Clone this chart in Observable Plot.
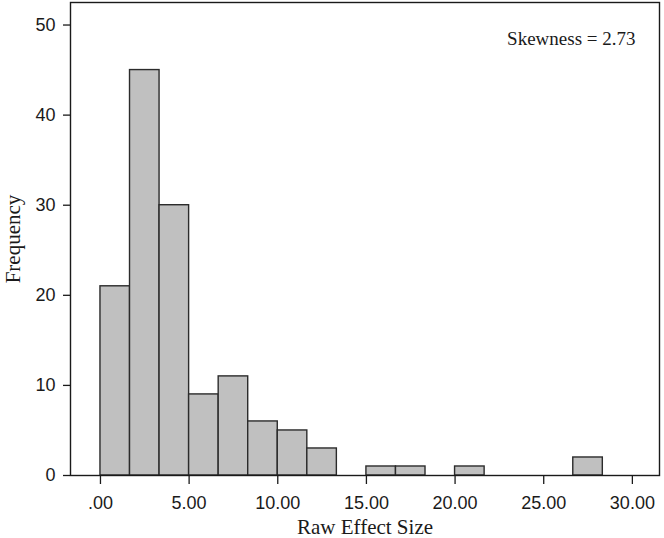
<!DOCTYPE html>
<html>
<head>
<meta charset="utf-8">
<script src="https://cdn.jsdelivr.net/npm/d3@7"></script>
<script src="https://cdn.jsdelivr.net/npm/@observablehq/plot@0.6"></script>
<style>
  html, body { margin: 0; padding: 0; background: #fff; }
  #chart svg { display: block; }
</style>
</head>
<body>
<div id="chart"></div>
<script>
// Histogram bins (lower and upper edges) and frequencies
const binLow  = [0, 1.667, 3.333, 5, 6.667, 8.333, 10, 11.667, 15, 16.667, 20, 26.667];
const binHigh = [1.667, 3.333, 5, 6.667, 8.333, 10, 11.667, 13.333, 16.667, 18.333, 21.667, 28.333];
const counts  = [21, 45, 30, 9, 11, 6, 5, 3, 1, 1, 1, 2];

const xTicks = [0, 5, 10, 15, 20, 25, 30];
const xTickLabels = [".00", "5.00", "10.00", "15.00", "20.00", "25.00", "30.00"];
const yTicks = [0, 10, 20, 30, 40, 50];

const xTitle = "Raw Effect Size";
const yTitle = "Frequency";
const note = "Skewness = 2.73";

const bins = counts.map((c, i) => ({lo: binLow[i], hi: binHigh[i], n: c}));

const sans = "Liberation Sans, Arial, sans-serif";
const serif = "Liberation Serif, Times New Roman, serif";

const chart = Plot.plot({
  width: 664,
  height: 538,
  marginLeft: 70,
  marginTop: 2,
  marginRight: 5,
  marginBottom: 63,
  x: {domain: [-1.69, 31.53]},
  y: {domain: [0, 52.5]},
  style: {background: "#fff", color: "#1a1a1a"},
  marks: [
    Plot.rectY(bins, {x1: "lo", x2: "hi", y: "n", fill: "#c0c0c0", stroke: "#2b2b2b", strokeWidth: 1.4}),
    Plot.frame({stroke: "#1a1a1a", strokeWidth: 1.4}),
    Plot.axisX({
      ticks: xTicks, tickFormat: (d) => xTickLabels[xTicks.indexOf(d)],
      tickSize: 9, tickPadding: 12, fontSize: 18, fontFamily: sans,
      stroke: "#1a1a1a", strokeWidth: 1.3, label: null
    }),
    Plot.axisY({
      ticks: yTicks, tickSize: 7, tickPadding: 8, fontSize: 18, fontFamily: sans,
      stroke: "#1a1a1a", strokeWidth: 1.3, label: null
    }),
    Plot.text([xTitle], {
      text: (d) => d, frameAnchor: "bottom", dy: 58, lineAnchor: "bottom",
      fontSize: 21, fontFamily: serif, fill: "#1a1a1a"
    }),
    Plot.text([yTitle], {
      text: (d) => d, frameAnchor: "left", dx: -57, rotate: -90,
      textAnchor: "middle", lineAnchor: "middle",
      fontSize: 21, fontFamily: serif, fill: "#1a1a1a"
    }),
    Plot.text([note], {
      text: (d) => d, frameAnchor: "top-right", dx: -24, dy: 42, lineAnchor: "bottom",
      textAnchor: "end", fontSize: 19, fontFamily: serif, fill: "#1a1a1a"
    })
  ]
});

document.getElementById("chart").appendChild(chart);
</script>
</body>
</html>
